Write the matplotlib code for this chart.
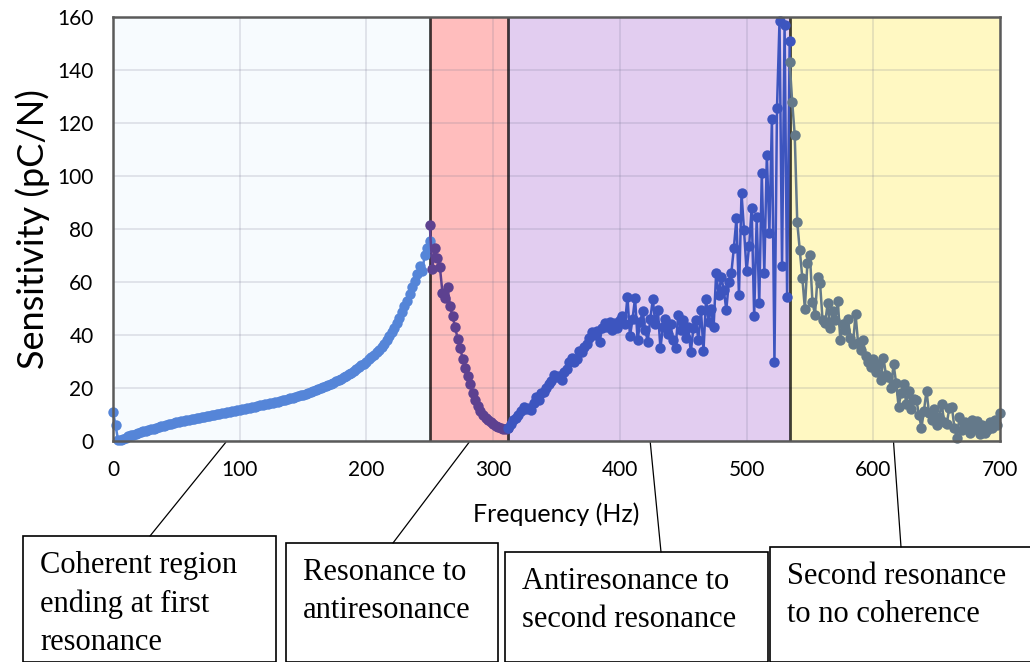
import numpy as np
import matplotlib
matplotlib.use("Agg")
import matplotlib.pyplot as plt
from matplotlib.patches import Rectangle

plt.rcParams['font.family'] = ['Lato', 'DejaVu Sans']

# region limits (Hz)
edges = [0, 250, 312, 534, 700]
region_colors = ['#f7fbfe', '#ffbdbd', '#e2cdf0', '#fff8c2']
line_colors = ['#5585d8', '#5d4190', '#3d55bf', '#64798a']

# sensitivity readings (pC/N), 2 Hz apart inside each region
v1 = [11, 6, 0.3, 0.2, 0.8, 1.2, 1.8, 2.2, 2.4, 2.8, 3.1, 3.3, 3.6, 3.9, 4.2,
      4.5, 4.7, 5.0, 5.2, 5.5, 5.8, 6.0, 6.3, 6.5, 6.8, 7.0, 7.2, 7.4, 7.6, 7.8,
      8.0, 8.2, 8.4, 8.6, 8.8, 9.0, 9.2, 9.3, 9.5, 9.7, 9.9, 10.1, 10.3, 10.5,
      10.6, 10.8, 11.0, 11.2, 11.4, 11.6, 11.8, 12.0, 12.2, 12.4, 12.6, 12.8,
      13.0, 13.2, 13.4, 13.6, 13.8, 14.0, 14.2, 14.4, 14.6, 14.9, 15.1, 15.3,
      15.6, 15.8, 16.1, 16.3, 16.6, 16.9, 17.2, 17.5, 17.8, 18.1, 18.4, 18.8,
      19.1, 19.5, 19.9, 20.3, 20.7, 21.1, 21.6, 22.0, 22.5, 23.0, 23.5, 24.0,
      24.6, 25.2, 25.8, 26.5, 27.1, 27.8, 28.5, 29.2, 30.0, 30.8, 31.7, 32.6,
      33.5, 34.4, 35.5, 36.7, 38.0, 39.5, 41.0, 42.8, 44.5, 46.5, 48.5, 51.0,
      53.0, 55.5, 58.0, 60.5, 63.0, 66.0, 64.0, 70.0, 73.0, 75.5]
v2 = [81.5, 65, 73, 69, 65.5, 56, 54, 58, 51, 47, 43, 38.5, 35, 31, 27.5, 24.5,
      21.5, 18, 15.5, 13.2, 11.5, 10, 8.8, 7.8, 7, 6.3, 5.7, 5.2, 4.9, 4.7, 4.6,
      4.8]
v3 = [5.0, 6.5, 7.9, 8.5, 10.0, 11.5, 13.0, 12.0, 12.5, 11.7, 14.5, 16.5, 15.5,
      18.0, 18.5, 20.0, 21.5, 22.5, 25.0, 24.0, 24.5, 23.0, 26.0, 27.0, 30.0,
      31.5, 30.0, 30.8, 34.0, 33.5, 35.5, 36.5, 39.0, 41.0, 40.0, 41.5, 37.5,
      42.5, 44.5, 43.0, 45.0, 42.0, 44.5, 42.5, 45.5, 47.0, 44.0, 54.5, 39.5,
      46.0, 54.0, 38.0, 45.0, 49.0, 42.0, 37.5, 46.0, 53.5, 44.0, 49.5, 35.0,
      43.0, 46.0, 40.5, 44.0, 38.0, 35.0, 47.5, 42.0, 45.5, 39.0, 43.0, 33.5,
      42.5, 45.5, 38.0, 49.5, 34.0, 53.5, 45.0, 50.0, 43.0, 63.5, 55.0, 62.0,
      57.0, 49.5, 60.0, 63.5, 73.0, 84.0, 55.0, 93.5, 79.5, 64.0, 73.5, 88.0,
      47.0, 84.5, 52.0, 101.0, 63.5, 108.0, 78.5, 121.5, 30.0, 125.5, 158.5,
      66.0, 157.0, 54.5, 151.0]
v4 = [143, 128, 115.5, 82.5, 72, 61.5, 50, 67, 70, 52.5, 47.5, 62, 59.5, 45.5,
      44.5, 52, 42.5, 49, 45.5, 53, 38, 44, 42, 46, 39, 36.5, 48, 37, 34.5, 38,
      32, 30, 28, 31, 26, 29, 23, 31.5, 25, 24, 20, 29, 22, 13, 18, 21.5, 14,
      19, 12, 16, 15.5, 10, 5, 11.5, 19, 10.5, 8, 12, 6, 9, 14, 7, 6.5, 12.5,
      13, 5, 1, 9, 4, 7, 5.5, 3, 8, 4.5, 7.5, 2.5, 6, 3, 4, 7, 5, 8, 6, 10.5]
series = [v1, v2, v3, v4]

labels = ['Coherent region\nending at first\nresonance',
          'Resonance to\nantiresonance',
          'Antiresonance to\nsecond resonance',
          'Second resonance\nto no coherence']

W, H = 1030, 662
fig = plt.figure(figsize=(W / 100, H / 100), dpi=100)
ax = fig.add_axes([113 / W, 1 - 441 / H, 887 / W, 424 / H])

for i in range(4):
    ax.axvspan(edges[i], edges[i + 1], color=region_colors[i], lw=0, zorder=0)
for e in edges[1:-1]:
    ax.axvline(e, color='black', lw=2, alpha=0.75, zorder=2)

for i, v in enumerate(series):
    f = edges[i] + 2 * np.arange(len(v))
    ax.plot(f, v, '-o', color=line_colors[i], lw=1.8, ms=7.5, mew=0,
            zorder=3, clip_on=False)

ax.set_xlim(0, 700)
ax.set_ylim(0, 160)
ax.set_xticks(range(0, 701, 100))
ax.set_yticks(range(0, 161, 20))
ax.grid(True, color='#70708c', alpha=0.2, lw=1.2, zorder=1)
ax.set_axisbelow(True)
ax.tick_params(length=0, pad=14, labelsize=15)
for s in ax.spines.values():
    s.set_color('#5a5a5a')
    s.set_linewidth(1.8)
    s.set_zorder(4)
ax.set_xlabel('Frequency (Hz)', fontsize=18, labelpad=16)
ax.set_ylabel('Sensitivity (pC/N)', fontsize=26, labelpad=5)

# callout boxes below the chart (pixel layout)
boxes = [(23, 536, 253), (286, 543, 212), (505, 552, 263), (770, 547, 270)]
anchors = [89, 281, 424, 616]
feet = [(150, 536), (393, 543), (661, 552), (901, 547)]
for (bx, by, bw), lab, a, (fx, fy) in zip(boxes, labels, anchors, feet):
    fig.add_artist(Rectangle((bx / W, 0), bw / W, 1 - by / H,
                             transform=fig.transFigure, fill=False,
                             ec='black', lw=1.2, clip_on=False))
    fig.text((bx + 17) / W, 1 - (by + 15) / H, lab, ha='left', va='top',
             family='Liberation Serif', fontsize=22, linespacing=1.42)
    ax.annotate('', xy=(a, -0.5), xycoords='data',
                xytext=(fx, H - fy), textcoords='figure pixels',
                arrowprops=dict(arrowstyle='-', color='black', lw=0.9,
                                shrinkA=0, shrinkB=0),
                annotation_clip=False)

fig.savefig('out.png', dpi=100)
